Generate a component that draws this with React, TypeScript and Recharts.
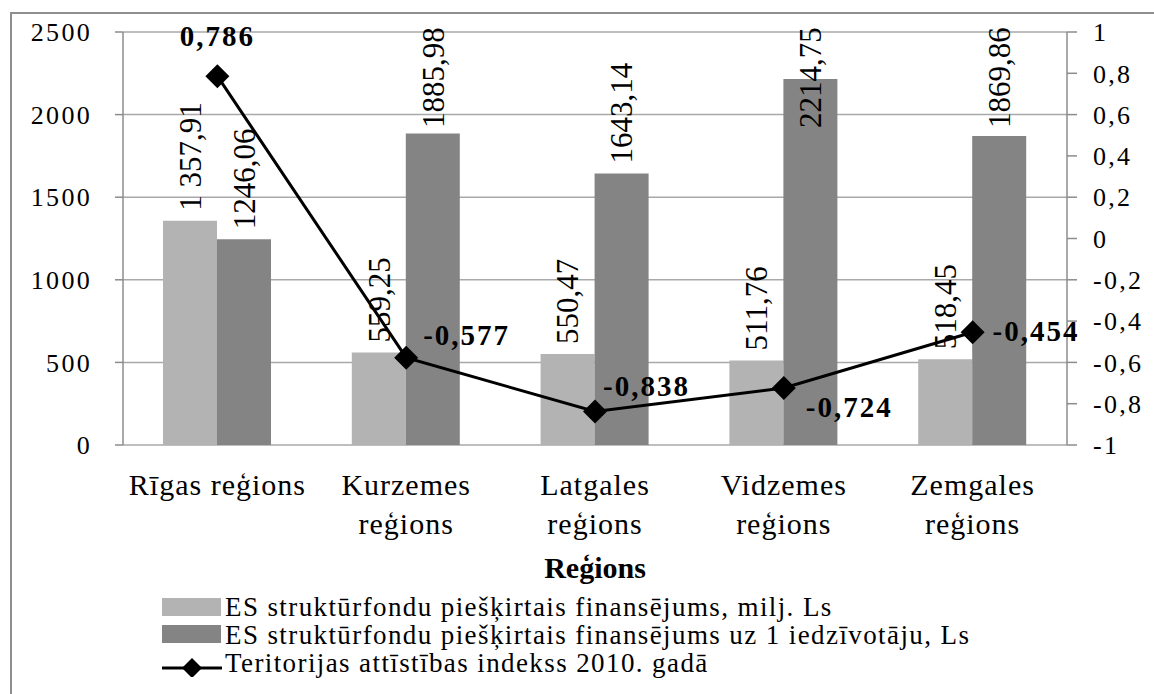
import { Bar, CartesianGrid, ComposedChart, LabelList, Line, XAxis, YAxis } from 'recharts'

const regions = ['Rīgas reģions', 'Kurzemes\nreģions', 'Latgales\nreģions', 'Vidzemes\nreģions', 'Zemgales\nreģions']
const fundingTotal = [1357.91, 559.25, 550.47, 511.76, 518.45]
const fundingPerCapita = [1246.06, 1885.98, 1643.14, 2214.75, 1869.86]
const devIndex = [0.786, -0.577, -0.838, -0.724, -0.454]

const leftTicks = [0, 500, 1000, 1500, 2000, 2500]
const rightTicks = [-1, -0.8, -0.6, -0.4, -0.2, 0, 0.2, 0.4, 0.6, 0.8, 1]
const edgeTicks = [0, 1, 2, 3, 4, 5]

const seriesNames = {
  total: 'ES struktūrfondu piešķirtais finansējums, milj. Ls',
  perCapita: 'ES struktūrfondu piešķirtais finansējums uz 1 iedzīvotāju, Ls',
  index: 'Teritorijas attīstības indekss 2010. gadā',
}

const colors = {
  total: '#b3b3b3',
  perCapita: '#848484',
  index: '#000000',
  grid: '#a9a9a9',
  axis: '#8c8c8c',
}

// where excel put each index label: [dx, dy, anchor]
const indexLabelPlace: [number, number, string][] = [
  [0, -30, 'middle'],
  [17, -13, 'start'],
  [8, -16, 'start'],
  [22, 29, 'start'],
  [20, 9, 'start'],
]

const font = '"Liberation Serif", "Times New Roman", serif'

const data = regions.map((r, i) => ({
  region: r,
  total: fundingTotal[i],
  perCapita: fundingPerCapita[i],
  index: devIndex[i],
}))

const withSpaces = (v: number) => {
  const [int, dec] = v.toFixed(2).split('.')
  return int.replace(/\B(?=(\d{3})+(?!\d))/g, ' ') + ',' + dec
}
const plain = (v: number) => v.toFixed(2).replace('.', ',')
const rightFmt = (v: number) => String(Number(v.toFixed(1))).replace('.', ',')

const tickStyle = { fontFamily: font, fontSize: 26, letterSpacing: 2.3, fill: '#000' }

const barLabel = (fmt: (v: number) => string) => (props: any) => {
  const { x, y, width, value } = props
  const cx = Number(x) + Number(width) / 2
  const base = Math.max(Number(y) - 10, 128)
  return (
    <text
      x={cx}
      y={base}
      dy="0.35em"
      transform={`rotate(-90 ${cx} ${base})`}
      fontFamily={font}
      fontSize={31}
      fill="#000"
    >
      {fmt(value)}
    </text>
  )
}

const indexLabel = (props: any) => {
  const { x, y, value, index } = props
  const [dx, dy, anchor] = indexLabelPlace[index]
  return (
    <text
      x={Number(x) + dx}
      y={Number(y) + dy}
      textAnchor={anchor as any}
      fontFamily={font}
      fontSize={29}
      fontWeight="bold"
      letterSpacing={2}
      fill="#000"
    >
      {String(value).replace('.', ',')}
    </text>
  )
}

const Diamond = (props: any) => {
  const { cx, cy } = props
  if (cx == null || cy == null) return null
  const r = 12
  return <polygon points={`${cx},${cy - r} ${cx + r},${cy} ${cx},${cy + r} ${cx - r},${cy}`} fill="#000" />
}

const RegionTick = ({ x, y, payload }: any) => {
  const lines = String(payload.value).split('\n')
  return (
    <text x={x} y={y} textAnchor="middle" fontFamily={font} fontSize={30} letterSpacing={1} fill="#000">
      {lines.map((l, i) => (
        <tspan key={i} x={x} dy={i === 0 ? 50 : 39}>
          {l}
        </tspan>
      ))}
    </text>
  )
}

function LegendBox() {
  const row = { position: 'absolute' as const, left: 0, height: 28, width: 900 }
  const text = {
    position: 'absolute' as const,
    left: 63,
    top: 0,
    fontFamily: font,
    fontSize: 27,
    letterSpacing: 1.4,
    lineHeight: '28px',
    whiteSpace: 'nowrap' as const,
  }
  return (
    <div style={{ position: 'absolute', left: 162, top: 593, width: 900, height: 90 }}>
      <div style={{ ...row, top: 0 }}>
        <div style={{ position: 'absolute', left: 0, top: 5, width: 59, height: 18, background: colors.total }} />
        <div style={text}>{seriesNames.total}</div>
      </div>
      <div style={{ ...row, top: 28 }}>
        <div style={{ position: 'absolute', left: 0, top: 4, width: 59, height: 18, background: colors.perCapita }} />
        <div style={text}>{seriesNames.perCapita}</div>
      </div>
      <div style={{ ...row, top: 56 }}>
        <svg width={60} height={28} style={{ position: 'absolute', left: 0, top: 0 }}>
          <line x1={0} y1={19} x2={60} y2={19} stroke="#000" strokeWidth={3} />
          <polygon points="30,9 40,19 30,29 20,19" fill="#000" />
        </svg>
        <div style={text}>{seriesNames.index}</div>
      </div>
    </div>
  )
}

export default function App() {
  return (
    <div
      style={{
        position: 'fixed',
        left: 0,
        top: 0,
        width: 1154,
        height: 694,
        overflow: 'hidden',
        background: '#fff',
      }}
    >
      <div
        style={{
          position: 'absolute',
          left: 10,
          top: 12,
          width: 1200,
          height: 800,
          border: '2px solid #8f8f8f',
          boxSizing: 'border-box',
        }}
      />
      <div style={{ position: 'absolute', left: 0, top: 0 }}>
        <ComposedChart
          width={1154}
          height={694}
          data={data}
          margin={{ top: 32, right: 0, left: 0, bottom: 109 }}
          barGap={0}
        >
          <CartesianGrid yAxisId="left" vertical={false} stroke={colors.grid} strokeWidth={1.5} />
          <XAxis
            xAxisId="edges"
            type="number"
            domain={[0, 5]}
            ticks={edgeTicks}
            height={0}
            tickSize={10}
            tickFormatter={() => ''}
            stroke={colors.axis}
            strokeWidth={1.5}
          />
          <XAxis
            xAxisId="cat"
            dataKey="region"
            height={140}
            axisLine={false}
            tickLine={false}
            tickSize={0}
            tickMargin={0}
            interval={0}
            tick={<RegionTick />}
            label={{
              value: 'Reģions',
              position: 'insideBottom',
              offset: 7,
              fontFamily: font,
              fontSize: 30,
              fontWeight: 'bold',
              fill: '#000',
            }}
          />
          <YAxis
            yAxisId="left"
            width={123}
            domain={[0, 2500]}
            ticks={leftTicks}
            tickSize={8}
            tickMargin={23}
            tick={tickStyle}
            stroke={colors.axis}
            strokeWidth={1.5}
          />
          <YAxis
            yAxisId="right"
            orientation="right"
            width={87}
            domain={[-1, 1]}
            ticks={rightTicks}
            tickFormatter={rightFmt}
            tickSize={10}
            tickMargin={16}
            tick={{ ...tickStyle, textAnchor: 'start' }}
            stroke={colors.axis}
            strokeWidth={1.5}
          />
          <Bar
            xAxisId="cat"
            yAxisId="left"
            dataKey="total"
            name={seriesNames.total}
            fill={colors.total}
            barSize={54}
            isAnimationActive={false}
          >
            <LabelList dataKey="total" content={barLabel(withSpaces)} />
          </Bar>
          <Bar
            xAxisId="cat"
            yAxisId="left"
            dataKey="perCapita"
            name={seriesNames.perCapita}
            fill={colors.perCapita}
            barSize={54}
            isAnimationActive={false}
          >
            <LabelList dataKey="perCapita" content={barLabel(plain)} />
          </Bar>
          <Line
            xAxisId="cat"
            yAxisId="right"
            dataKey="index"
            name={seriesNames.index}
            stroke={colors.index}
            strokeWidth={3}
            dot={<Diamond />}
            activeDot={false}
            isAnimationActive={false}
          >
            <LabelList dataKey="index" content={indexLabel} />
          </Line>
        </ComposedChart>
      </div>
      <LegendBox />
    </div>
  )
}
